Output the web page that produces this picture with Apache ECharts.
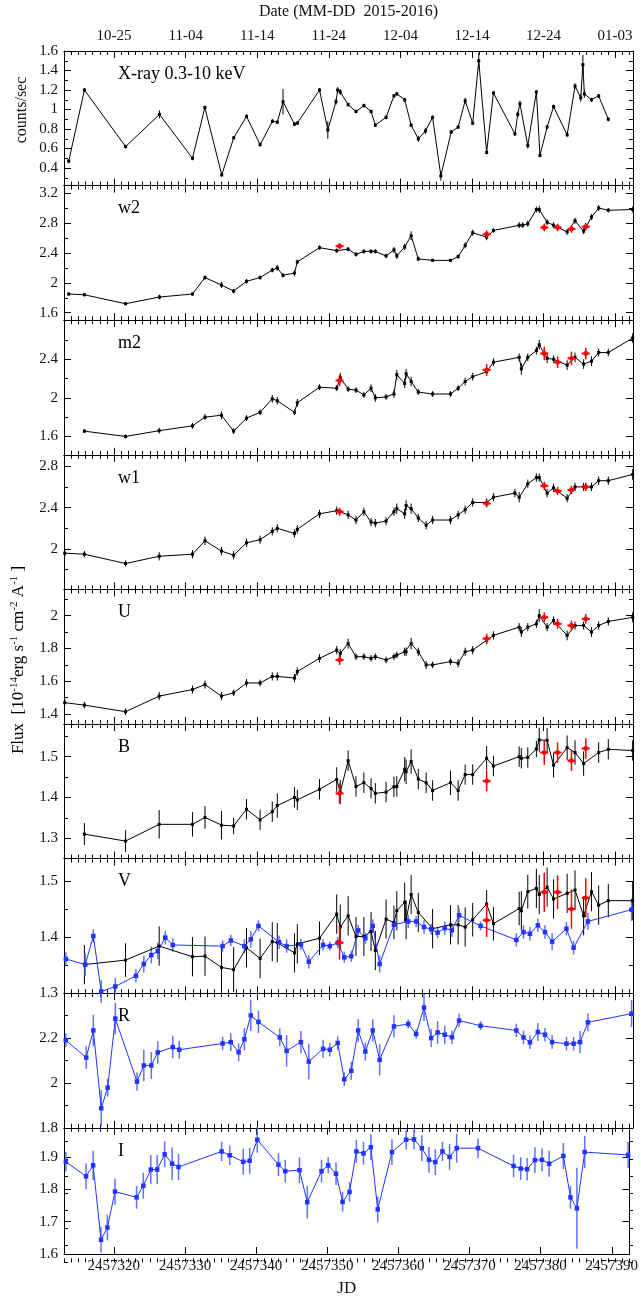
<!DOCTYPE html>
<html>
<head>
<meta charset="utf-8">
<title>Light curves</title>
<script src="https://cdn.jsdelivr.net/npm/echarts@6/dist/echarts.min.js"></script>
<style>
html, body { margin: 0; padding: 0; background: #fff; }
#chart { width: 641px; height: 1298px; }
</style>
</head>
<body>
<div id="chart"></div>
<script>
// all times are JD - 2457000
const JD0 = 2457000;

// tick labels
const jdTicks = [2457320, 2457330, 2457340, 2457350, 2457360, 2457370, 2457380, 2457390];
const dateLabels = ['10-25', '11-04', '11-14', '11-24', '12-04', '12-14', '12-24', '01-03'];

// X-ray (counts/sec)
const xrayT = [313.66,315.85,321.61,326.34,330.95,332.68,335.04,336.71,338.5,340.4,342.13,342.8,343.6,345.2,345.6,348.7,349.86,351.0,351.24,351.6,352.7,353.8,354.9,355.9,356.5,358.0,359.1,359.5,360.6,361.5,362.5,363.5,364.5,365.65,367.1,368.07,369.05,370.1,370.95,372.05,373.0,376.0,376.4,376.7,377.8,379.0,379.5,380.5,381.4,383.3,384.4,385.2,385.5,385.7,386.7,387.7,389.05];
const xrayV = [0.47,1.2,0.62,0.95,0.5,1.02,0.33,0.71,0.93,0.64,0.88,0.87,1.08,0.85,0.86,1.2,0.79,1.08,1.2,1.18,1.05,0.98,1.04,0.98,0.84,0.92,1.14,1.16,1.1,0.84,0.7,0.78,0.92,0.32,0.77,0.82,1.09,0.86,1.5,0.56,1.17,0.75,0.95,1.06,0.63,1.18,0.53,0.82,1.03,0.74,1.24,1.12,1.46,1.16,1.1,1.14,0.9];
const xrayE = [0.02,0.02,0.02,0.04,0.02,0.02,0.02,0.02,0.02,0.02,0.02,0.02,0.13,0.02,0.02,0.02,0.09,0.03,0.03,0.03,0.02,0.02,0.02,0.02,0.02,0.02,0.02,0.02,0.02,0.02,0.03,0.03,0.02,0.05,0.02,0.02,0.03,0.02,0.08,0.02,0.02,0.02,0.03,0.03,0.03,0.02,0.02,0.02,0.02,0.02,0.03,0.04,0.1,0.04,0.02,0.02,0.02];

// epochs of the red points
const redT = [351.5, 372.05, 380.1, 381.96, 383.9, 385.9];

// w2
const w2T = [313.66,315.85,321.6,326.34,330.95,332.7,335.0,336.7,338.5,340.4,342.1,342.8,343.6,345.2,345.6,348.7,351.1,352.7,353.8,354.9,355.9,356.5,358.0,359.1,359.5,360.6,361.5,362.5,364.5,367.0,368.07,369.05,370.1,372.05,373.0,376.6,377.1,377.8,379.0,379.4,380.5,381.4,383.3,384.4,385.6,386.7,387.7,389.05,392.45];
const w2V = [1.85,1.84,1.72,1.81,1.85,2.07,1.97,1.89,2.02,2.07,2.17,2.2,2.1,2.13,2.28,2.47,2.43,2.45,2.38,2.42,2.42,2.42,2.36,2.44,2.36,2.48,2.63,2.32,2.30,2.30,2.35,2.5,2.67,2.61,2.70,2.77,2.77,2.79,2.98,2.98,2.81,2.77,2.68,2.83,2.69,2.88,3.0,2.97,2.98];
const w2E = [0.02,0.02,0.02,0.03,0.02,0.03,0.04,0.03,0.03,0.03,0.03,0.04,0.03,0.04,0.03,0.03,0.03,0.03,0.03,0.03,0.03,0.03,0.03,0.04,0.04,0.04,0.06,0.03,0.02,0.02,0.03,0.04,0.04,0.04,0.03,0.04,0.04,0.04,0.04,0.05,0.04,0.04,0.04,0.04,0.04,0.04,0.04,0.03,0.04];
const w2RedV = [2.49, 2.65, 2.74, 2.74, 2.72, 2.75];
const w2RedE = [0.04, 0.05, 0.05, 0.05, 0.05, 0.05];

// m2
const m2T = [315.85,321.6,326.3,330.95,332.7,335.0,336.7,338.5,340.4,342.1,342.8,345.2,345.6,348.7,351.1,351.6,352.7,353.8,354.9,355.9,356.5,358.0,359.1,359.5,360.6,360.8,361.5,362.5,364.5,367.0,368.07,369.05,370.1,372.05,373.0,376.6,376.9,377.8,379.0,379.4,380.5,381.4,383.3,384.4,385.6,386.7,387.7,389.05,392.45];
const m2V = [1.655,1.60,1.66,1.71,1.80,1.82,1.655,1.79,1.85,1.99,1.97,1.85,1.95,2.11,2.10,2.21,2.09,2.08,2.03,2.10,2.0,2.01,2.04,2.24,2.15,2.25,2.17,2.06,2.04,2.04,2.10,2.17,2.22,2.27,2.37,2.42,2.30,2.42,2.49,2.55,2.41,2.40,2.34,2.42,2.35,2.38,2.47,2.47,2.62];
const m2E = [0.02,0.02,0.03,0.03,0.03,0.04,0.03,0.03,0.03,0.04,0.04,0.03,0.04,0.03,0.03,0.05,0.03,0.03,0.03,0.04,0.04,0.03,0.04,0.05,0.05,0.05,0.05,0.03,0.03,0.03,0.03,0.04,0.04,0.04,0.04,0.04,0.06,0.04,0.04,0.05,0.05,0.04,0.05,0.05,0.05,0.05,0.04,0.04,0.05];
const m2RedV = [2.18, 2.29, 2.46, 2.37, 2.41, 2.46];
const m2RedE = [0.06, 0.06, 0.07, 0.06, 0.07, 0.06];

// w1
const w1T = [313.1,315.85,321.6,326.3,330.95,332.7,335.0,336.7,338.5,340.4,342.1,342.8,345.2,345.6,348.7,351.1,352.7,353.8,354.9,355.9,356.5,358.0,359.1,359.5,360.6,360.8,361.5,362.5,363.6,364.5,367.0,368.07,369.05,370.1,372.05,373.0,376.0,376.6,377.8,379.0,379.4,380.5,381.4,383.3,384.4,385.6,386.7,387.7,389.05,392.45];
const w1V = [1.96,1.95,1.86,1.93,1.95,2.08,1.98,1.94,2.06,2.09,2.17,2.20,2.15,2.19,2.34,2.37,2.33,2.28,2.36,2.26,2.25,2.27,2.36,2.39,2.34,2.42,2.39,2.30,2.23,2.28,2.28,2.33,2.38,2.45,2.45,2.50,2.54,2.50,2.63,2.69,2.69,2.54,2.59,2.49,2.60,2.60,2.60,2.66,2.66,2.72];
const w1E = [0.03,0.03,0.03,0.04,0.04,0.04,0.04,0.04,0.04,0.04,0.04,0.04,0.04,0.04,0.04,0.04,0.04,0.04,0.04,0.04,0.04,0.04,0.04,0.05,0.05,0.05,0.05,0.04,0.04,0.04,0.04,0.04,0.04,0.04,0.04,0.04,0.04,0.05,0.04,0.04,0.04,0.04,0.04,0.04,0.04,0.04,0.04,0.04,0.04,0.05];
const w1RedV = [2.36, 2.44, 2.61, 2.56, 2.57, 2.60];
const w1RedE = [0.04, 0.04, 0.04, 0.04, 0.04, 0.04];

// U
const uT = [313.1,315.85,321.6,326.3,330.95,332.7,335.0,336.7,338.5,340.4,342.1,342.8,345.2,345.6,348.7,351.1,351.6,352.7,353.8,354.9,355.9,356.5,358.0,359.1,359.5,360.6,360.8,361.5,362.5,363.6,364.5,367.0,368.07,369.05,370.1,372.05,373.0,376.6,376.9,377.8,379.0,379.4,380.5,381.4,383.3,384.4,385.6,386.7,387.7,389.05,392.45];
const uV = [1.47,1.455,1.415,1.51,1.55,1.58,1.51,1.53,1.59,1.59,1.63,1.63,1.62,1.66,1.74,1.79,1.77,1.83,1.75,1.75,1.74,1.75,1.73,1.75,1.76,1.78,1.78,1.83,1.78,1.70,1.70,1.72,1.71,1.78,1.79,1.85,1.88,1.93,1.90,1.93,1.95,2.0,1.93,1.97,1.88,1.94,1.94,1.90,1.94,1.965,1.99];
const uE = [0.02,0.02,0.02,0.025,0.025,0.025,0.025,0.02,0.025,0.02,0.025,0.025,0.025,0.025,0.025,0.025,0.025,0.03,0.02,0.02,0.02,0.02,0.02,0.02,0.02,0.025,0.025,0.035,0.025,0.025,0.02,0.02,0.025,0.025,0.025,0.025,0.025,0.025,0.03,0.025,0.025,0.04,0.025,0.025,0.03,0.025,0.025,0.03,0.025,0.025,0.03];
const uRedV = [1.73, 1.86, 1.99, 1.95, 1.94, 1.98];
const uRedE = [0.03, 0.03, 0.03, 0.03, 0.03, 0.03];

// B
const bT = [315.85,321.6,326.3,330.95,332.7,335.0,336.7,338.5,340.4,342.1,342.8,345.2,345.6,348.7,351.1,351.6,352.7,353.8,354.9,355.9,356.5,358.0,359.1,359.5,360.6,360.8,361.5,362.5,363.6,364.5,367.0,368.07,369.05,370.1,372.05,373.0,376.6,376.9,377.8,379.0,379.4,380.5,381.4,383.3,384.4,385.6,387.7,389.05,392.45];
const bV = [1.31,1.293,1.334,1.334,1.351,1.332,1.33,1.371,1.345,1.365,1.38,1.40,1.394,1.42,1.444,1.413,1.49,1.427,1.436,1.422,1.41,1.413,1.426,1.427,1.469,1.463,1.488,1.445,1.436,1.417,1.436,1.417,1.456,1.456,1.496,1.477,1.50,1.496,1.498,1.519,1.541,1.54,1.479,1.522,1.51,1.483,1.51,1.518,1.515];
const bE = [0.027,0.027,0.035,0.03,0.028,0.035,0.02,0.025,0.025,0.025,0.03,0.025,0.025,0.025,0.03,0.03,0.025,0.025,0.025,0.025,0.025,0.025,0.025,0.025,0.03,0.03,0.03,0.025,0.025,0.025,0.03,0.025,0.025,0.025,0.03,0.025,0.025,0.025,0.025,0.02,0.03,0.03,0.03,0.03,0.03,0.03,0.025,0.025,0.025];
const bRedV = [1.41, 1.44, 1.51, 1.51, 1.49, 1.52];
const bRedE = [0.025, 0.025, 0.03, 0.025, 0.025, 0.025];

// V (black: Swift, blue: ground based)
const vT = [315.85,321.6,326.3,330.95,332.7,335.0,336.7,338.5,340.4,342.1,342.8,345.2,345.6,348.7,351.1,351.6,352.7,353.8,354.9,355.9,356.5,358.0,359.1,359.5,360.6,360.8,361.5,362.5,364.5,367.0,368.07,369.05,370.1,372.05,373.0,376.6,376.9,377.8,379.0,379.4,380.5,381.4,383.3,384.4,385.6,386.7,387.7,389.05,392.45];
const vV = [1.351,1.359,1.384,1.365,1.366,1.346,1.342,1.381,1.362,1.392,1.39,1.372,1.388,1.398,1.441,1.418,1.438,1.401,1.401,1.41,1.376,1.432,1.426,1.447,1.462,1.431,1.476,1.444,1.415,1.422,1.422,1.418,1.431,1.459,1.424,1.451,1.447,1.481,1.487,1.476,1.489,1.468,1.478,1.484,1.438,1.481,1.457,1.465,1.465];
const vE = [0.035,0.03,0.035,0.035,0.035,0.04,0.04,0.035,0.035,0.035,0.035,0.035,0.035,0.03,0.035,0.04,0.035,0.035,0.035,0.035,0.035,0.035,0.03,0.035,0.035,0.035,0.035,0.035,0.035,0.035,0.035,0.035,0.03,0.025,0.03,0.03,0.035,0.03,0.035,0.035,0.035,0.035,0.035,0.035,0.035,0.035,0.035,0.03,0.035];
const vRedV = [1.39, 1.43, 1.48, 1.48, 1.45, 1.47];
const vRedE = [0.03, 0.03, 0.035, 0.03, 0.035, 0.035];
const vOptT = [313.26,315.97,317.1,318.2,320.17,323.05,324.15,325.2,326.1,327.15,328.2,335.16,336.3,338.2,339.1,340.17,343.05,344.1,346.1,347.2,349.2,350.14,351.24,352.16,353.14,354.1,355.1,356.14,357.1,359.1,361.1,362.2,363.3,364.3,365.2,366.2,367.2,368.2,371.2,376.2,377.2,378.1,379.2,380.2,381.2,383.2,384.2,386.2,392.3];
const vOptV = [1.361,1.351,1.402,1.303,1.312,1.331,1.352,1.368,1.375,1.399,1.386,1.384,1.394,1.384,1.396,1.42,1.391,1.384,1.387,1.356,1.386,1.384,1.39,1.364,1.366,1.412,1.398,1.42,1.352,1.422,1.428,1.428,1.418,1.414,1.408,1.416,1.412,1.439,1.42,1.395,1.409,1.406,1.421,1.409,1.392,1.415,1.381,1.428,1.449];
const vOptE = [0.012,0.02,0.012,0.02,0.015,0.012,0.015,0.015,0.015,0.012,0.012,0.01,0.01,0.012,0.015,0.01,0.012,0.012,0.01,0.012,0.01,0.008,0.01,0.01,0.01,0.01,0.01,0.012,0.015,0.012,0.012,0.01,0.012,0.01,0.01,0.012,0.012,0.012,0.008,0.012,0.012,0.012,0.012,0.012,0.015,0.012,0.012,0.015,0.02];

// R
const rT = [313.26,316.1,317.1,318.2,319.1,320.17,323.2,324.15,325.2,326.1,328.2,329.1,335.16,336.3,337.4,338.2,339.1,340.17,343.15,344.1,346.1,347.2,349.2,350.14,351.24,352.16,353.14,354.1,355.1,356.14,357.1,359.1,361.1,362.2,363.3,364.3,365.2,366.2,367.2,368.2,371.2,376.2,377.2,378.1,379.2,380.2,381.2,383.2,384.2,385.1,386.2,392.3];
const rV = [2.19,2.113,2.234,1.887,1.979,2.287,2.006,2.078,2.078,2.136,2.16,2.148,2.176,2.182,2.137,2.195,2.301,2.272,2.203,2.143,2.182,2.095,2.152,2.148,2.178,2.016,2.054,2.234,2.14,2.234,2.103,2.252,2.263,2.218,2.336,2.20,2.225,2.215,2.204,2.278,2.255,2.234,2.203,2.181,2.227,2.215,2.182,2.175,2.175,2.182,2.27,2.309];
const rE = [0.03,0.05,0.07,0.08,0.04,0.07,0.04,0.07,0.06,0.05,0.05,0.04,0.03,0.04,0.04,0.05,0.07,0.05,0.04,0.07,0.05,0.08,0.04,0.03,0.03,0.03,0.04,0.05,0.04,0.05,0.07,0.05,0.02,0.02,0.06,0.04,0.05,0.04,0.03,0.03,0.02,0.03,0.03,0.03,0.04,0.03,0.03,0.03,0.03,0.05,0.04,0.06];

// I
const iT = [313.26,316.1,317.1,318.2,319.1,320.17,323.2,324.15,325.2,326.1,327.15,328.2,329.1,335.16,336.3,338.2,339.1,340.17,343.15,344.1,346.1,347.2,349.2,350.14,351.24,352.16,353.14,354.1,355.1,356.14,357.1,359.1,361.1,362.2,363.3,364.3,365.2,366.2,367.2,368.2,371.2,376.2,377.2,378.1,379.2,380.2,381.2,383.2,384.2,385.1,386.2,392.3];
const iV = [1.885,1.84,1.874,1.644,1.682,1.793,1.775,1.811,1.861,1.861,1.908,1.879,1.869,1.917,1.905,1.885,1.888,1.953,1.876,1.856,1.859,1.76,1.856,1.874,1.848,1.761,1.792,1.917,1.911,1.93,1.738,1.915,1.953,1.954,1.927,1.891,1.884,1.917,1.90,1.927,1.927,1.872,1.864,1.862,1.89,1.891,1.879,1.903,1.775,1.741,1.915,1.906];
const iE = [0.03,0.04,0.045,0.04,0.04,0.04,0.035,0.04,0.045,0.045,0.04,0.05,0.04,0.03,0.03,0.04,0.04,0.04,0.035,0.035,0.04,0.05,0.035,0.025,0.035,0.03,0.03,0.035,0.035,0.04,0.04,0.04,0.03,0.03,0.04,0.04,0.04,0.03,0.04,0.045,0.03,0.035,0.035,0.035,0.04,0.035,0.04,0.04,0.035,0.125,0.05,0.04];

// y tick labels of each panel
const yLabXray = [0.4, 0.6, 0.8, 1, 1.2, 1.4, 1.6];
const yLabW2 = [1.6, 2, 2.4, 2.8, 3.2];
const yLabM2 = [1.6, 2, 2.4];
const yLabW1 = [2, 2.4, 2.8];
const yLabU = [1.4, 1.6, 1.8, 2];
const yLabB = [1.3, 1.4, 1.5];
const yLabV = [1.3, 1.4, 1.5];
const yLabR = [1.8, 2, 2.2];
const yLabI = [1.6, 1.7, 1.8, 1.9];

const BLACK = '#000', RED = '#ff0000', BLUE = '#2233ff', BLUE_ERR = '#6270ff';
const FONT = 'Liberation Serif';

const panels = [
  { name: 'X-ray 0.3-10 keV', min: 0.22, max: 1.6, labels: yLabXray, minor: 0.1,
    black: [xrayT, xrayV, xrayE] },
  { name: 'w2', min: 1.5, max: 3.3, labels: yLabW2, minor: 0.2,
    black: [w2T, w2V, w2E], red: [redT, w2RedV, w2RedE] },
  { name: 'm2', min: 1.41, max: 2.805, labels: yLabM2, minor: 0.2,
    black: [m2T, m2V, m2E], red: [redT, m2RedV, m2RedE] },
  { name: 'w1', min: 1.61, max: 2.91, labels: yLabW1, minor: 0.2,
    black: [w1T, w1V, w1E], red: [redT, w1RedV, w1RedE] },
  { name: 'U', min: 1.34, max: 2.16, labels: yLabU, minor: 0.1,
    black: [uT, uV, uE], red: [redT, uRedV, uRedE] },
  { name: 'B', min: 1.25, max: 1.58, labels: yLabB, minor: 0.05,
    black: [bT, bV, bE], red: [redT, bRedV, bRedE] },
  { name: 'V', min: 1.3, max: 1.54, labels: yLabV, minor: 0.05,
    black: [vT, vV, vE], red: [redT, vRedV, vRedE], blue: [vOptT, vOptV, vOptE] },
  { name: 'R', min: 1.8, max: 2.4, labels: yLabR, minor: 0.1,
    blue: [rT, rV, rE] },
  { name: 'I', min: 1.6, max: 1.99, labels: yLabI, minor: 0.05,
    blue: [iT, iV, iE] }
];

const GRID_LEFT = 64, GRID_RIGHT = 8, TOP0 = 51, PANEL_H = 134.6;
const X_MIN = JD0 + 313, X_MAX = JD0 + 392.5;

const dayTicks = [];
for (let d = Math.ceil(X_MIN); d <= X_MAX; d++) dayTicks.push(d);

function stepTicks(min, max, step) {
  const out = [];
  for (let k = Math.ceil(min / step - 1e-9); k * step <= max + 1e-9; k++) {
    out.push(Math.round(k * step * 1000) / 1000);
  }
  return out;
}

function toData(arr) {
  const [t, v, e] = arr;
  return t.map((tt, j) => [JD0 + tt, v[j], e[j]]);
}

const labelStyle = { fontFamily: FONT, fontSize: 15, color: '#111' };

const grids = [], xAxes = [], yAxes = [], series = [], graphics = [];
const last = panels.length - 1;

function addLine(arr, ax, color, errColor, errWidth, size) {
  const data = toData(arr);
  series.push({
    type: 'custom', xAxisIndex: ax, yAxisIndex: ax, clip: false, silent: true,
    animation: false, z: 2,
    renderItem: (params, api) => {
      const x = api.value(0), y = api.value(1), e = api.value(2);
      const a = api.coord([x, y + e]), b = api.coord([x, y - e]);
      return { type: 'line', shape: { x1: a[0], y1: a[1], x2: b[0], y2: b[1] },
        style: { stroke: errColor, lineWidth: errWidth } };
    },
    data: data
  });
  series.push({
    type: 'line', xAxisIndex: ax, yAxisIndex: ax, silent: true,
    animation: false, z: 3,
    data: data.map(d => [d[0], d[1]]),
    symbol: 'rect', symbolSize: size, showSymbol: true,
    lineStyle: { color: color, width: 1 },
    itemStyle: { color: color }
  });
}

function addRed(arr, ax) {
  series.push({
    type: 'custom', xAxisIndex: ax, yAxisIndex: ax, clip: false, silent: true,
    animation: false, z: 4,
    renderItem: (params, api) => {
      const x = api.value(0), y = api.value(1), e = api.value(2);
      const a = api.coord([x, y + e]), b = api.coord([x, y - e]), c = api.coord([x, y]);
      return { type: 'group', children: [
        { type: 'line', shape: { x1: a[0], y1: a[1], x2: b[0], y2: b[1] }, style: { stroke: RED, lineWidth: 1.5 } },
        { type: 'line', shape: { x1: c[0] - 4, y1: c[1], x2: c[0] + 4, y2: c[1] }, style: { stroke: RED, lineWidth: 2 } },
        { type: 'circle', shape: { cx: c[0], cy: c[1], r: 2.4 }, style: { fill: RED } }
      ] };
    },
    data: toData(arr)
  });
}

panels.forEach((p, i) => {
  const top = TOP0 + i * PANEL_H;
  // two grids on the same spot: 0 = major ticks + labels, 1 = minor ticks
  for (let k = 0; k < 2; k++) {
    const g = grids.length;
    const major = k === 0;
    grids.push({ left: GRID_LEFT, right: GRID_RIGHT, top: top, height: PANEL_H });
    const tickLen = major ? 7 : 4;
    const xTicks = major ? jdTicks : dayTicks;
    const yTicks = major ? p.labels : stepTicks(p.min, p.max, p.minor);
    const baseX = {
      type: 'value', gridIndex: g, min: X_MIN, max: X_MAX,
      splitLine: { show: false },
      axisLine: { show: major, onZero: false, lineStyle: { color: BLACK, width: 1 } },
      axisTick: { show: true, inside: true, length: tickLen, customValues: xTicks, lineStyle: { color: BLACK } }
    };
    xAxes.push(Object.assign({}, baseX, {
      position: 'bottom',
      name: major && i === last ? 'JD' : '',
      nameLocation: 'middle', nameGap: 26,
      nameTextStyle: { fontFamily: FONT, fontSize: 17, color: '#111' },
      axisLabel: Object.assign({ show: major && i === last, customValues: jdTicks, margin: 5,
        formatter: v => String(v) }, labelStyle)
    }));
    xAxes.push(Object.assign({}, baseX, {
      position: 'top',
      name: major && i === 0 ? 'Date (MM-DD  2015-2016)' : '',
      nameLocation: 'middle', nameGap: 31,
      nameTextStyle: { fontFamily: FONT, fontSize: 16, color: '#111' },
      axisLabel: Object.assign({ show: major && i === 0, customValues: jdTicks, margin: 7,
        formatter: v => dateLabels[jdTicks.indexOf(v)] || '' }, labelStyle)
    }));
    const baseY = {
      type: 'value', gridIndex: g, min: p.min, max: p.max,
      splitLine: { show: false },
      axisLine: { show: major, onZero: false, lineStyle: { color: BLACK, width: 1 } },
      axisTick: { show: true, inside: true, length: tickLen, customValues: yTicks, lineStyle: { color: BLACK } }
    };
    yAxes.push(Object.assign({}, baseY, {
      position: 'left',
      axisLabel: Object.assign({ show: major, customValues: p.labels, margin: 6,
        formatter: v => String(v) }, labelStyle)
    }));
    yAxes.push(Object.assign({}, baseY, {
      position: 'right',
      axisLabel: { show: false }
    }));
  }

  const ax = 4 * i; // axis index of the major grid (bottom x / left y)

  if (p.black) addLine(p.black, ax, BLACK, BLACK, 1, 3);
  if (p.blue) addLine(p.blue, ax, BLUE, BLUE_ERR, 1.5, 4.5);
  if (p.red) addRed(p.red, ax);

  graphics.push({
    type: 'text', x: 118, y: top + 23, z: 10,
    style: { text: p.name, fill: '#000', font: '18px "' + FONT + '"', verticalAlign: 'middle' }
  });
});

// axis titles
graphics.push({
  type: 'text', x: 22, y: 110, rotation: Math.PI / 2, z: 10,
  style: { text: 'counts/sec', fill: '#111', font: '16px "' + FONT + '"', align: 'center', verticalAlign: 'middle' }
});
graphics.push({
  type: 'text', x: 18, y: 660, rotation: Math.PI / 2, z: 10,
  style: {
    text: '{n|Flux  [10}{s|-14}{n|erg s}{s|-1}{n| cm}{s|-2}{n| A}{s|-1}{n| ]}',
    align: 'center', verticalAlign: 'middle',
    rich: {
      n: { fontFamily: FONT, fontSize: 17, color: '#111', lineHeight: 18, verticalAlign: 'bottom' },
      s: { fontFamily: FONT, fontSize: 11, color: '#111', lineHeight: 18, verticalAlign: 'top' }
    }
  }
});

const chart = echarts.init(document.getElementById('chart'), null, { renderer: 'canvas' });
chart.setOption({
  backgroundColor: '#fff',
  animation: false,
  grid: grids,
  xAxis: xAxes,
  yAxis: yAxes,
  series: series,
  graphic: graphics
});
</script>
</body>
</html>
